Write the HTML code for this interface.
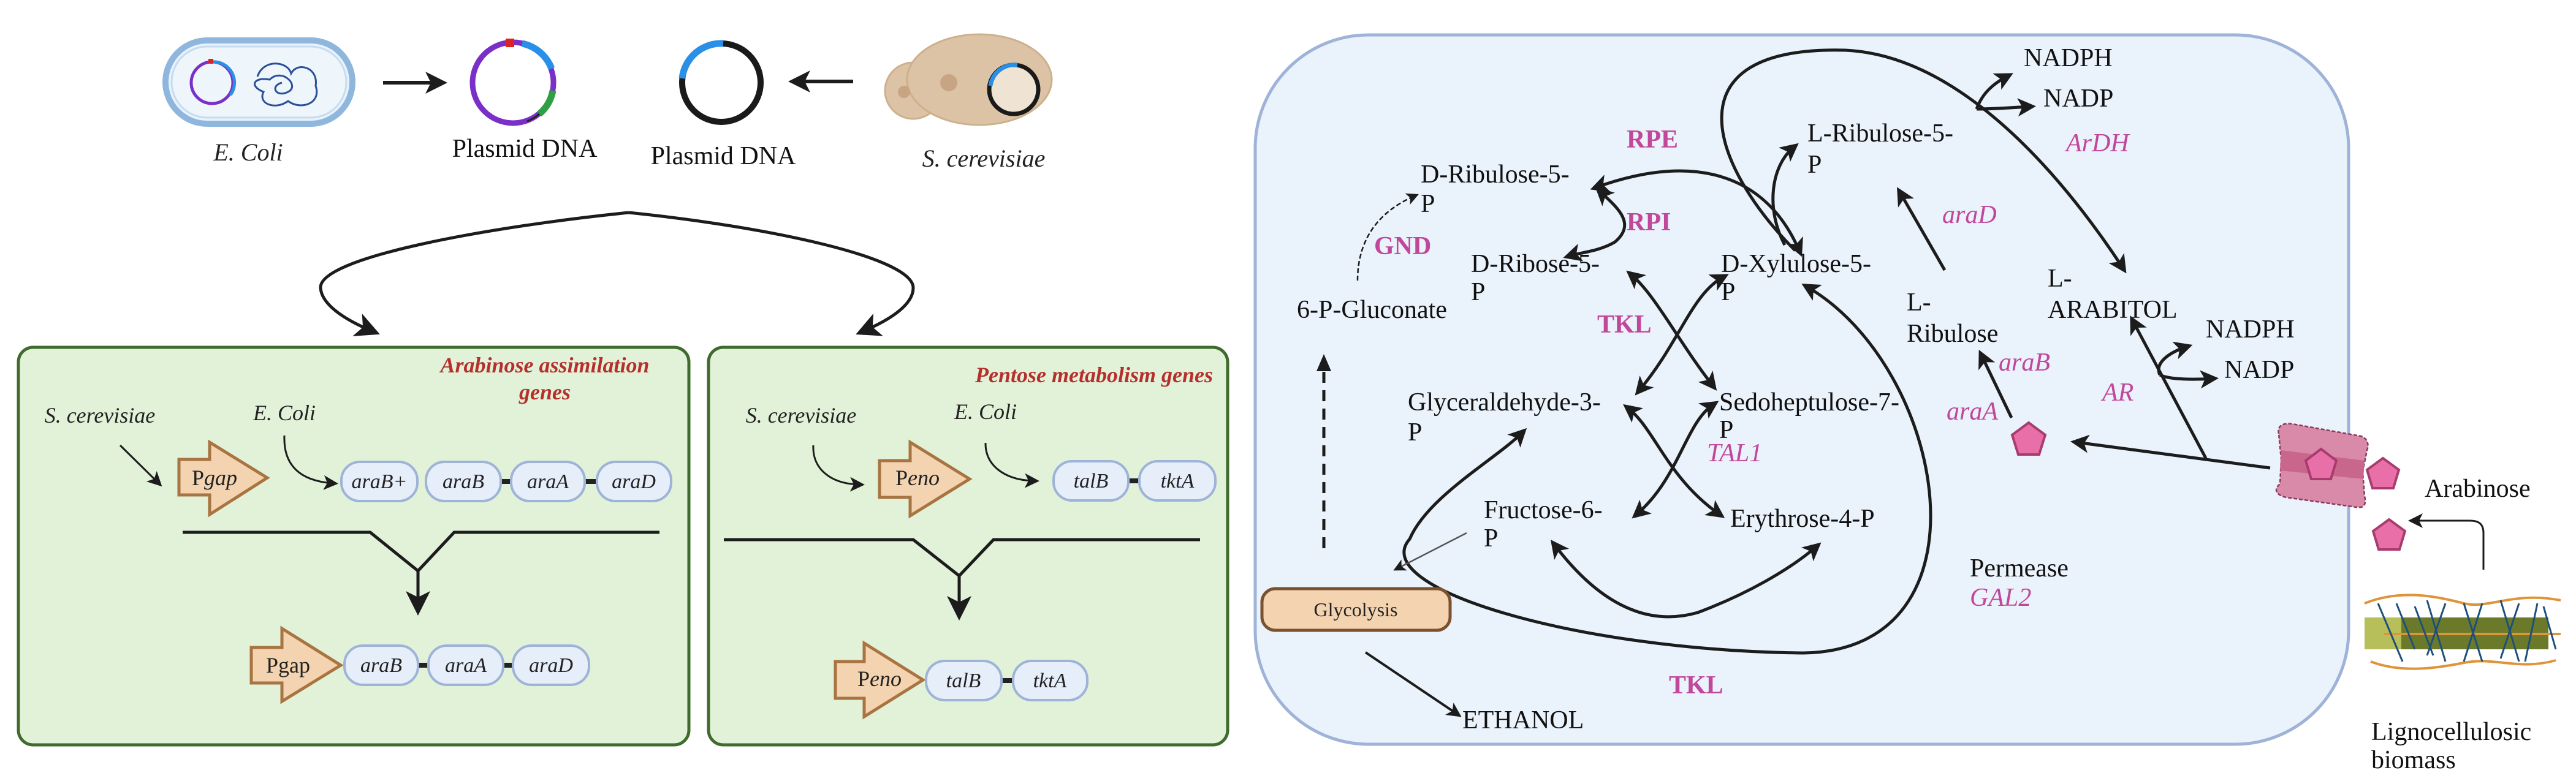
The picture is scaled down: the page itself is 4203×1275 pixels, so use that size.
<!DOCTYPE html>
<html><head><meta charset="utf-8"><style>
html,body{margin:0;padding:0;background:#fff}
svg{display:block}
.t{font-family:"Liberation Serif",serif;font-size:42px;fill:#111}
.pk{font-family:"Liberation Serif",serif;font-size:42px;fill:#c0479a;font-weight:bold}
.pki{font-family:"Liberation Serif",serif;font-size:42px;fill:#c0479a;font-style:italic}
.it{font-family:"Liberation Serif",serif;font-style:italic;fill:#222}
.red{font-family:"Liberation Serif",serif;font-style:italic;font-weight:bold;fill:#b5302c;font-size:36px}
.pill{fill:#e6eefa;stroke:#9fb3d8;stroke-width:4}
.pt{font-family:"Liberation Serif",serif;font-style:italic;font-size:34px;fill:#222;text-anchor:middle}
.prom{fill:#f4d3b0;stroke:#a87442;stroke-width:5}
.ln{fill:none;stroke:#1c1c1c;stroke-width:5}
.pent{fill:#e96fa8;stroke:#a83c6e;stroke-width:4}
</style></head><body>
<svg width="4203" height="1275" viewBox="0 0 4203 1275" xmlns="http://www.w3.org/2000/svg">
<defs>
<marker id="a" markerWidth="6" markerHeight="6" refX="4" refY="3" orient="auto-start-reverse" markerUnits="strokeWidth"><path d="M0,0 L6,3 L0,6 L1.5,3z" fill="#1c1c1c"/></marker>
<marker id="as" markerWidth="8" markerHeight="8" refX="5" refY="4" orient="auto-start-reverse" markerUnits="strokeWidth"><path d="M0,0 L8,4 L0,8 L2,4z" fill="#1c1c1c"/></marker>
</defs>

<!-- ===== TOP LEFT ===== -->
<rect x="270" y="66" width="305" height="136" rx="68" fill="#eaf3fb" stroke="#8fb7de" stroke-width="10"/>
<rect x="280" y="76" width="285" height="116" rx="58" fill="#eef5fb" stroke="#c6dcf0" stroke-width="3"/>
<circle cx="346" cy="135" r="34" fill="none" stroke="#7b2fc9" stroke-width="5"/>
<path d="M346,101 A34,34 0 0 1 376,155" fill="none" stroke="#2a8fe6" stroke-width="5"/>
<rect x="340" y="96" width="8" height="8" fill="#d22"/>
<g fill="none" stroke="#2a4f9a" stroke-width="3">
<path d="M420,125 C430,95 470,100 475,120 C485,100 520,110 515,140 C525,170 490,180 470,165 C450,180 420,170 430,150 C405,140 415,125 440,130 C460,110 490,140 470,150 C450,160 440,140 460,135"/>
</g>
<text class="it" x="405" y="262" font-size="40" text-anchor="middle">E. Coli</text>
<line x1="625" y1="135" x2="718" y2="135" stroke="#1c1c1c" stroke-width="6" marker-end="url(#a)"/>
<!-- purple plasmid -->
<circle cx="837" cy="135" r="66" fill="none" stroke="#7b2fc9" stroke-width="9"/>
<path d="M852,71 A66,66 0 0 1 900,112" fill="none" stroke="#2a8fe6" stroke-width="11"/>
<path d="M902,148 A66,66 0 0 1 880,186" fill="none" stroke="#2ea043" stroke-width="11"/>
<path d="M880,186 A66,66 0 0 1 860,198" fill="none" stroke="#222" stroke-width="3"/>
<rect x="825" y="63" width="14" height="14" fill="#d22"/>
<text class="t" x="856" y="256" text-anchor="middle" font-size="42">Plasmid DNA</text>
<!-- black plasmid -->
<circle cx="1177" cy="135" r="64" fill="none" stroke="#1a1a1a" stroke-width="10"/>
<path d="M1180,71 A64,64 0 0 0 1113,128" fill="none" stroke="#2a8fe6" stroke-width="11"/>
<line x1="1392" y1="133" x2="1298" y2="133" stroke="#1c1c1c" stroke-width="6" marker-end="url(#a)"/>
<text class="t" x="1180" y="268" text-anchor="middle" font-size="42">Plasmid DNA</text>
<!-- yeast -->
<circle cx="1490" cy="148" r="46" fill="#dcc3a5" stroke="#cdb08c" stroke-width="3"/>
<ellipse cx="1598" cy="130" rx="118" ry="74" fill="#dcc3a5" stroke="#cdb08c" stroke-width="3"/>
<circle cx="1548" cy="135" r="14" fill="#c7a582"/>
<circle cx="1475" cy="150" r="10" fill="#c7a582"/>
<circle cx="1654" cy="146" r="40" fill="#efe4d3" stroke="#1a1a1a" stroke-width="7"/>
<path d="M1660,106 A40,40 0 0 0 1616,140" fill="none" stroke="#2a8fe6" stroke-width="7"/>
<text class="it" x="1605" y="272" font-size="40" text-anchor="middle">S. cerevisiae</text>

<!-- big double arrow -->
<path d="M1026,347 C800,370 520,420 523,470 C525,500 570,525 606,540" class="ln" marker-end="url(#as)"/>
<path d="M1026,347 C1250,370 1490,420 1490,470 C1490,500 1445,525 1410,540" class="ln" marker-end="url(#as)"/>

<!-- ===== BOX 1 ===== -->
<rect x="30" y="567" width="1094" height="649" rx="24" fill="#e2f2d9" stroke="#3f6b2d" stroke-width="5"/>
<text class="red" x="889" y="608" text-anchor="middle">Arabinose assimilation</text>
<text class="red" x="889" y="652" text-anchor="middle">genes</text>
<text class="it" x="163" y="690" font-size="36" text-anchor="middle">S. cerevisiae</text>
<text class="it" x="464" y="686" font-size="36" text-anchor="middle">E. Coli</text>
<line x1="196" y1="727" x2="258" y2="788" stroke="#1c1c1c" stroke-width="3" marker-end="url(#as)"/>
<path d="M464,711 C462,760 490,785 543,789" fill="none" stroke="#1c1c1c" stroke-width="3" marker-end="url(#as)"/>
<path class="prom" d="M292,750 L342,750 L342,722 L436,780 L342,840 L342,808 L292,808z"/>
<text x="350" y="792" font-family="Liberation Serif,serif" font-size="36" text-anchor="middle" fill="#222">P<tspan font-style="italic">gap</tspan></text>
<line x1="817" y1="786" x2="834" y2="786" stroke="#222" stroke-width="8"/>
<line x1="954" y1="786" x2="974" y2="786" stroke="#222" stroke-width="8"/>
<rect class="pill" x="557" y="754" width="124" height="64" rx="30"/><text class="pt" x="619" y="797">araB+</text>
<rect class="pill" x="695" y="754" width="122" height="64" rx="30"/><text class="pt" x="756" y="797">araB</text>
<rect class="pill" x="834" y="754" width="120" height="64" rx="30"/><text class="pt" x="894" y="797">araA</text>
<rect class="pill" x="974" y="754" width="121" height="64" rx="30"/><text class="pt" x="1034" y="797">araD</text>
<path d="M298,869 L604,869 L682,932 L741,869 L1076,869" class="ln" stroke-width="6"/>
<line x1="682" y1="932" x2="682" y2="990" stroke="#1c1c1c" stroke-width="5" marker-end="url(#as)"/>
<path class="prom" d="M410,1057 L460,1057 L460,1026 L556,1086 L460,1145 L460,1115 L410,1115z"/>
<text x="470" y="1098" font-family="Liberation Serif,serif" font-size="36" text-anchor="middle" fill="#222">P<tspan>gap</tspan></text>
<line x1="682" y1="1086" x2="699" y2="1086" stroke="#222" stroke-width="8"/>
<line x1="821" y1="1086" x2="837" y2="1086" stroke="#222" stroke-width="8"/>
<rect class="pill" x="562" y="1054" width="120" height="64" rx="30"/><text class="pt" x="622" y="1097">araB</text>
<rect class="pill" x="699" y="1054" width="122" height="64" rx="30"/><text class="pt" x="760" y="1097">araA</text>
<rect class="pill" x="837" y="1054" width="124" height="64" rx="30"/><text class="pt" x="899" y="1097">araD</text>

<!-- ===== BOX 2 ===== -->
<rect x="1156" y="567" width="847" height="649" rx="24" fill="#e2f2d9" stroke="#3f6b2d" stroke-width="5"/>
<text class="red" x="1785" y="624" text-anchor="middle">Pentose metabolism genes</text>
<text class="it" x="1307" y="690" font-size="36" text-anchor="middle">S. cerevisiae</text>
<text class="it" x="1608" y="684" font-size="36" text-anchor="middle">E. Coli</text>
<path d="M1327,727 C1325,765 1355,790 1402,791" fill="none" stroke="#1c1c1c" stroke-width="3" marker-end="url(#as)"/>
<path d="M1608,723 C1607,760 1640,784 1687,785" fill="none" stroke="#1c1c1c" stroke-width="3" marker-end="url(#as)"/>
<path class="prom" d="M1435,752 L1485,752 L1485,722 L1582,782 L1485,842 L1485,812 L1435,812z"/>
<text x="1497" y="792" font-family="Liberation Serif,serif" font-size="36" text-anchor="middle" fill="#222">P<tspan font-style="italic">eno</tspan></text>
<line x1="1841" y1="785" x2="1859" y2="785" stroke="#222" stroke-width="8"/>
<rect class="pill" x="1719" y="753" width="122" height="64" rx="30"/><text class="pt" x="1780" y="796">talB</text>
<rect class="pill" x="1859" y="753" width="124" height="64" rx="30"/><text class="pt" x="1921" y="796">tktA</text>
<path d="M1181,881 L1490,881 L1565,940 L1621,881 L1958,881" class="ln" stroke-width="6"/>
<line x1="1565" y1="940" x2="1565" y2="998" stroke="#1c1c1c" stroke-width="5" marker-end="url(#as)"/>
<path class="prom" d="M1363,1080 L1410,1080 L1410,1050 L1506,1110 L1410,1170 L1410,1140 L1363,1140z"/>
<text x="1435" y="1120" font-family="Liberation Serif,serif" font-size="36" text-anchor="middle" fill="#222">P<tspan font-style="italic">eno</tspan></text>
<line x1="1634" y1="1111" x2="1653" y2="1111" stroke="#222" stroke-width="8"/>
<rect class="pill" x="1511" y="1079" width="123" height="64" rx="30"/><text class="pt" x="1572" y="1122">talB</text>
<rect class="pill" x="1653" y="1079" width="121" height="64" rx="30"/><text class="pt" x="1713" y="1122">tktA</text>

<!-- ===== RIGHT CELL ===== -->
<rect x="2048" y="57" width="1784" height="1158" rx="185" fill="#eaf2fb" stroke="#9fb3d8" stroke-width="5"/>

<g fill="none" stroke="#1c1c1c" stroke-width="5">
<!-- big top loop -->
<path d="M2929,409 C2791,270 2720,74 3011,82 C3190,90 3354,270 3464,438" marker-end="url(#a)"/>
<!-- NADPH/NADP top branch -->
<path d="M3225,178 C3235,150 3255,135 3276,124" marker-end="url(#a)"/>
<path d="M3225,178 C3250,178 3280,176 3312,174" marker-end="url(#a)"/>
<!-- RPE -->
<path d="M2604,306 C2760,250 2880,280 2936,410" marker-start="url(#a)" marker-end="url(#a)"/>
<!-- RPI -->
<path d="M2610,312 C2640,340 2670,365 2635,395 C2610,410 2580,412 2560,418" marker-start="url(#a)" marker-end="url(#a)"/>
<!-- to L-Ribulose -->
<path d="M2912,400 C2880,340 2890,270 2927,240" marker-end="url(#a)"/>
<!-- araD -->
<line x1="3173" y1="441" x2="3100" y2="314" marker-end="url(#a)"/>
<!-- araB -->
<line x1="3282" y1="682" x2="3233" y2="580" marker-end="url(#a)"/>
<!-- transporter arrow -->
<line x1="3704" y1="764" x2="3388" y2="722" marker-end="url(#a)"/>
<!-- AR -->
<line x1="3599" y1="748" x2="3480" y2="524" marker-end="url(#a)"/>
<path d="M3524,612 C3515,592 3540,575 3568,566" marker-end="url(#a)"/>
<path d="M3524,612 C3540,620 3580,620 3610,618" marker-end="url(#a)"/>
<!-- TKL crossing -->
<path d="M2661,448 C2700,480 2740,560 2795,630" marker-start="url(#a)" marker-end="url(#a)"/>
<path d="M2812,452 C2760,480 2740,560 2674,638" marker-start="url(#a)" marker-end="url(#a)"/>
<!-- TAL1 crossing -->
<path d="M2656,666 C2700,700 2720,780 2806,840" marker-start="url(#a)" marker-end="url(#a)"/>
<path d="M2796,660 C2750,690 2740,780 2670,840" marker-start="url(#a)" marker-end="url(#a)"/>
<!-- F6P <-> E4P -->
<path d="M2536,889 C2620,1000 2700,1020 2770,1000 C2850,970 2920,930 2964,892" marker-start="url(#a)" marker-end="url(#a)"/>
<!-- big lower loop -->
<path d="M2948,468 C3176,600 3258,1062 2942,1066 C2572,1062 2230,960 2300,880 C2330,810 2440,750 2484,706" marker-start="url(#a)" marker-end="url(#a)"/>
</g>
<!-- GND dashed -->
<path d="M2215,458 C2215,390 2250,345 2308,320" fill="none" stroke="#1c1c1c" stroke-width="2.5" stroke-dasharray="8,4" marker-end="url(#as)"/>
<!-- dashed thick up -->
<line x1="2160" y1="895" x2="2160" y2="600" stroke="#1c1c1c" stroke-width="5" stroke-dasharray="18,12"/>
<path d="M2148,606 L2160,578 L2172,606z" fill="#1c1c1c"/>
<!-- F6P to glycolysis -->
<line x1="2393" y1="870" x2="2280" y2="928" stroke="#555" stroke-width="2.5" marker-end="url(#as)"/>
<!-- glycolysis -> ethanol -->
<line x1="2228" y1="1065" x2="2378" y2="1166" stroke="#1c1c1c" stroke-width="4" marker-end="url(#a)"/>

<rect x="2059" y="961" width="307" height="68" rx="22" fill="#f4d3b0" stroke="#7a5230" stroke-width="5"/>
<text x="2212" y="1006" font-family="Liberation Serif,serif" font-size="32" text-anchor="middle" fill="#222">Glycolysis</text>

<!-- labels -->
<text class="t" x="3302" y="108">NADPH</text>
<text class="t" x="3334" y="174">NADP</text>
<text class="pki" x="3371" y="247">ArDH</text>
<text class="pk" x="2654" y="241">RPE</text>
<text class="t" x="2949" y="231">L-Ribulose-5-</text>
<text class="t" x="2949" y="282">P</text>
<text class="t" x="2318" y="298">D-Ribulose-5-</text>
<text class="t" x="2318" y="346">P</text>
<text class="pk" x="2654" y="376">RPI</text>
<text class="pki" x="3169" y="364">araD</text>
<text class="pk" x="2242" y="415">GND</text>
<text class="t" x="2400" y="444">D-Ribose-5-</text>
<text class="t" x="2400" y="490">P</text>
<text class="t" x="2808" y="444">D-Xylulose-5-</text>
<text class="t" x="2808" y="490">P</text>
<text class="t" x="3341" y="468">L-</text>
<text class="t" x="3341" y="519">ARABITOL</text>
<text class="t" x="3111" y="507">L-</text>
<text class="t" x="3111" y="558">Ribulose</text>
<text class="t" x="2116" y="519">6-P-Gluconate</text>
<text class="pk" x="2606" y="543">TKL</text>
<text class="t" x="3599" y="551">NADPH</text>
<text class="t" x="3629" y="617">NADP</text>
<text class="pki" x="3261" y="605">araB</text>
<text class="pki" x="3430" y="654">AR</text>
<text class="pki" x="3176" y="685">araA</text>
<text class="t" x="2297" y="670">Glyceraldehyde-3-</text>
<text class="t" x="2297" y="719">P</text>
<text class="t" x="2805" y="670">Sedoheptulose-7-</text>
<text class="t" x="2805" y="715">P</text>
<text class="pki" x="2785" y="753">TAL1</text>
<text class="t" x="3956" y="811">Arabinose</text>
<text class="t" x="2421" y="846">Fructose-6-</text>
<text class="t" x="2421" y="892">P</text>
<text class="t" x="2823" y="860">Erythrose-4-P</text>
<text class="t" x="3214" y="941">Permease</text>
<text class="pki" x="3214" y="989">GAL2</text>
<text class="pk" x="2723" y="1132">TKL</text>
<text class="t" x="2386" y="1189">ETHANOL</text>
<text class="t" x="3869" y="1208">Lignocellulosic</text>
<text class="t" x="3869" y="1254">biomass</text>

<!-- pentagons -->
<path class="pent" d="M3310,690 L3337,710 L3327,742 L3293,742 L3283,710z"/>
<!-- transporter -->
<g stroke="#8a3a5a" stroke-width="2.5" stroke-dasharray="6,3">
<path d="M3718,708 C3715,695 3725,690 3740,692 L3852,712 C3862,715 3866,725 3862,735 L3855,770 L3858,810 C3862,825 3855,830 3845,828 L3730,812 C3712,808 3710,798 3720,790 L3722,750z" fill="#d98aa8"/>
</g>
<path d="M3722,735 L3858,752 L3856,782 L3720,768z" fill="#c9668c"/>
<path class="pent" d="M3787,733 L3812,752 L3803,782 L3771,782 L3762,752z"/>
<path class="pent" d="M3888,748 L3914,767 L3905,797 L3871,797 L3862,767z"/>
<path class="pent" d="M3898,848 L3924,867 L3915,897 L3881,897 L3872,867z"/>
<!-- biomass arrow -->
<path d="M4052,930 L4052,870 C4052,856 4045,850 4030,850 L3938,850" fill="none" stroke="#1c1c1c" stroke-width="3" marker-end="url(#as)"/>
<!-- lignocellulose -->
<g>
<path d="M3858,985 C3920,960 3980,975 4020,985 C4060,995 4100,965 4178,980" fill="none" stroke="#e0943a" stroke-width="4"/>
<path d="M3868,1080 C3920,1100 3980,1090 4020,1082 C4070,1072 4110,1095 4170,1078" fill="none" stroke="#e0943a" stroke-width="4"/>
<rect x="3858" y="1008" width="300" height="52" fill="#6b7a2a"/>
<rect x="3858" y="1008" width="60" height="52" fill="#b7bf5a"/>
<line x1="3890" y1="1035" x2="4178" y2="1035" stroke="#e0943a" stroke-width="4"/>
<path d="M3880,985 L3920,1080 M3910,985 L3940,1060 M3960,980 L3990,1080 M3990,985 L3960,1070 M4020,985 L4050,1080 M4050,985 L4020,1080 M4080,980 L4110,1080 M4110,985 L4080,1075 M4140,985 L4120,1080 M4150,990 L4170,1060 M3940,990 L3970,1070" stroke="#1d4f7a" stroke-width="3" fill="none"/>
</g>
</svg>
</body></html>
